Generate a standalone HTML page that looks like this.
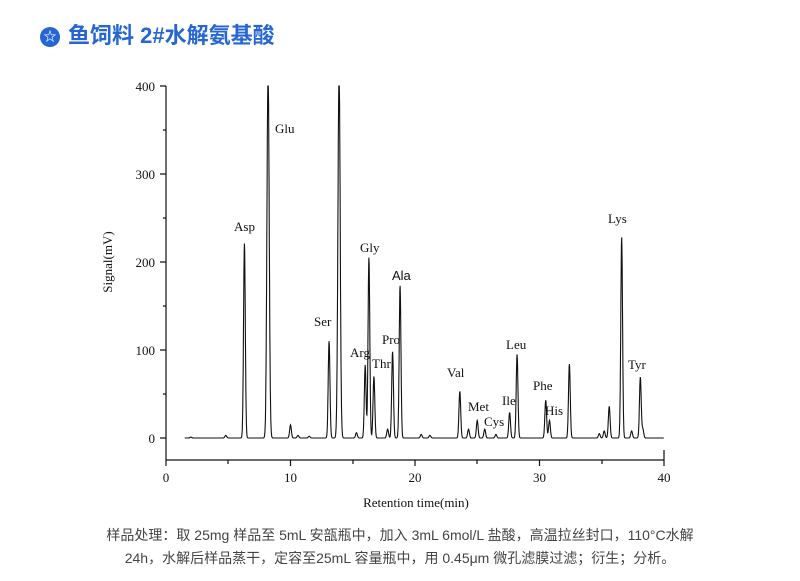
<!DOCTYPE html>
<html><head><meta charset="utf-8"><style>
body{margin:0;width:800px;height:581px;background:#fff;overflow:hidden;position:relative;font-family:"Liberation Sans","Noto Sans CJK SC",sans-serif}
.t{position:absolute;left:40px;top:18px;font-size:22px;font-weight:bold;color:#2566d4;font-family:"Liberation Sans","Noto Sans CJK SC",sans-serif;white-space:nowrap}
.ic{display:inline-block;width:20px;height:20px;border-radius:50%;background:#2566d4;color:#fff;font-size:13px;text-align:center;line-height:20px;vertical-align:2px;margin-right:8px}
.c{position:absolute;left:0;width:800px;text-align:center;font-size:14px;color:#444;line-height:23px;top:524px}
svg{position:absolute;left:0;top:0}
svg text{font-family:"Liberation Serif",serif;font-size:13px;fill:#111}
</style></head><body>
<div class="t"><span class="ic">☆</span>鱼饲料 2#水解氨基酸</div>
<svg width="800" height="581">
<g stroke="#111" stroke-width="1.2" fill="none">
<path d="M166,86V460H664V450"/>
<path d="M160,86H166M160,174H166M160,262H166M160,350H166M160,438H166M163,130H166M163,218H166M163,306H166M163,394H166"/>
<path d="M166,460v6M290.5,460v6M415,460v6M539.5,460v6M664,460v6M228,460v4M353,460v4M477,460v4M602,460v4"/>
</g>
<g text-anchor="end"><text x="155" y="91">400</text><text x="155" y="179">300</text><text x="155" y="267">200</text><text x="155" y="355">100</text><text x="155" y="443">0</text></g>
<g text-anchor="middle"><text x="166" y="482">0</text><text x="290.5" y="482">10</text><text x="415" y="482">20</text><text x="539.5" y="482">30</text><text x="664" y="482">40</text>
<text x="416" y="507">Retention time(min)</text>
<text transform="translate(112,262) rotate(-90)">Signal(mV)</text></g>
<path id="sig" stroke="#111" stroke-width="1.1" fill="none"/>
<text x="234" y="231">Asp</text><text x="275" y="133">Glu</text><text x="314" y="326">Ser</text>
<text x="360" y="252">Gly</text><text x="350" y="357">Arg</text><text x="372" y="368">Thr</text>
<text x="382" y="344">Pro</text><text x="392" y="280" style="font-family:'Liberation Sans',sans-serif">Ala</text>
<text x="447" y="377">Val</text><text x="468" y="411">Met</text><text x="484" y="426">Cys</text>
<text x="502" y="405">Ile</text><text x="506" y="349">Leu</text><text x="533" y="390">Phe</text>
<text x="545" y="415">His</text><text x="608" y="223">Lys</text><text x="628" y="369">Tyr</text>
</svg>
<div class="c">样品处理：取 25mg 样品至 5mL 安瓿瓶中，加入 3mL 6mol/L 盐酸，高温拉丝封口，110°C水解<br>24h，水解后样品蒸干，定容至25mL 容量瓶中，用 0.45μm 微孔滤膜过滤；衍生；分析。</div>
<script>
var P=[[2,1],[4.8,3],[6.3,221],[8.2,420],[10,15],[10.6,3],[11.5,2],[13.1,110],[13.9,420],[15.3,6],[16.0,83],[16.3,205],[16.7,70],[17.8,10],[18.2,98],[18.8,173],[20.5,4],[21.2,3],[23.6,53],[24.3,10],[25.0,20],[25.6,10],[26.5,4],[27.6,29],[28.2,95],[30.5,43],[30.8,20],[32.4,84],[34.8,5],[35.2,8],[35.6,36],[36.6,228],[37.4,8],[38.1,69],[38.3,10]];
var d="";for(var x=1.5;x<=40;x+=0.02){var v=0;for(var i=0;i<P.length;i++){var w=P[i][1]>300?0.09:0.07;var q=(x-P[i][0])/w;v+=P[i][1]*Math.exp(-q*q/2);}
var px=166+x*12.45,py=Math.max(86,438-v*0.88);d+=(d?"L":"M")+px.toFixed(1)+","+py.toFixed(1);}
document.getElementById("sig").setAttribute("d",d);
</script>
</body></html>
